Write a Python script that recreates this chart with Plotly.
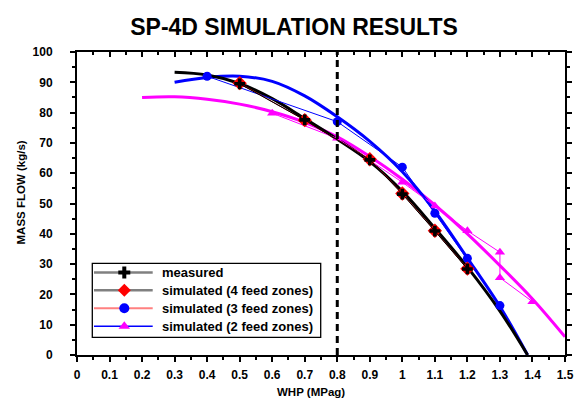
import plotly.graph_objects as go

# ---------------- data ----------------
whp_ticks = [0, 0.1, 0.2, 0.3, 0.4, 0.5, 0.6, 0.7, 0.8, 0.9, 1.0, 1.1, 1.2, 1.3, 1.4, 1.5]

measured_whp = [0.5, 0.7, 0.9, 1.0, 1.1, 1.2]
measured_flow = [89.5, 77.6, 64.4, 53.1, 40.9, 28.4]

sim4_whp = [0.5, 0.7, 0.9, 1.0, 1.1, 1.2]
sim4_flow = [89.7, 77.5, 64.6, 53.3, 41.0, 28.5]

sim3_whp = [0.4, 0.8, 1.0, 1.1, 1.2, 1.3]
sim3_flow = [92.0, 77.0, 62.0, 46.8, 31.9, 16.3]

sim2_whp = [0.6, 0.8, 1.0, 1.1, 1.2, 1.3, 1.3, 1.4]
sim2_flow = [79.8, 71.5, 57.0, 49.2, 41.0, 33.9, 25.5, 17.6]

# fitted (thick) trend curves
fit_meas_whp = [0.3, 0.4, 0.5, 0.6, 0.7, 0.8, 0.9, 1.0, 1.1, 1.2, 1.3, 1.385]
fit_meas_flow = [93.3, 92.4, 89.6, 84.6, 78.0, 71.2, 63.8, 54.0, 41.8, 29.0, 14.5, 0.0]

fit_sim3_whp = [0.3, 0.4, 0.5, 0.6, 0.7, 0.8, 0.9, 1.0, 1.1, 1.2, 1.3, 1.385]
fit_sim3_flow = [90.0, 91.6, 92.0, 90.3, 85.5, 78.6, 70.5, 60.5, 47.5, 32.0, 16.0, 0.0]

fit_sim2_whp = [0.2, 0.3, 0.4, 0.5, 0.6, 0.7, 0.8, 0.9, 1.0, 1.1, 1.2, 1.3, 1.4, 1.5]
fit_sim2_flow = [85.0, 85.2, 84.4, 82.8, 80.3, 76.8, 72.0, 65.5, 58.0, 49.5, 40.0, 29.5, 18.5, 6.0]

cutoff_whp = 0.8

legend_names = ["measured", "simulated (4 feed zones)", "simulated (3 feed zones)", "simulated (2 feed zones)"]

FONT = "Liberation Sans, Arial, sans-serif"
BOLD = dict(family=FONT, color="black", weight="bold")

# pixel frame of the plot area (576x400 canvas)
PX_L, PX_R, PX_T, PX_B = 77, 565, 52, 355


def paper_x(px):
    return (px - PX_L) / (PX_R - PX_L)


def paper_y(py):
    return (PX_B - py) / (PX_B - PX_T)


fig = go.Figure()

# thick fitted curves
fig.add_trace(go.Scatter(x=fit_sim2_whp, y=fit_sim2_flow, mode="lines", line=dict(color="#ff00ff", width=3, shape="spline"), showlegend=False, hoverinfo="skip"))
fig.add_trace(go.Scatter(x=fit_sim3_whp, y=fit_sim3_flow, mode="lines", line=dict(color="#0000ff", width=3, shape="spline"), showlegend=False, hoverinfo="skip"))
fig.add_trace(go.Scatter(x=fit_meas_whp, y=fit_meas_flow, mode="lines", line=dict(color="#000000", width=3, shape="spline"), showlegend=False, hoverinfo="skip"))

# thin connecting lines + markers
fig.add_trace(go.Scatter(x=sim2_whp, y=sim2_flow, mode="lines+markers", line=dict(color="#ff00ff", width=1),
                         marker=dict(symbol="triangle-up", size=9, color="#ff00ff"), name=legend_names[3], showlegend=False))
fig.add_trace(go.Scatter(x=sim3_whp, y=sim3_flow, mode="lines+markers", line=dict(color="#0000ff", width=1),
                         marker=dict(symbol="circle", size=9, color="#0000ff"), name=legend_names[2], showlegend=False))
fig.add_trace(go.Scatter(x=sim4_whp, y=sim4_flow, mode="lines+markers", line=dict(color="#b00000", width=1),
                         marker=dict(symbol="diamond", size=11, color="#ff0000"), name=legend_names[1], showlegend=False))
fig.add_trace(go.Scatter(x=measured_whp, y=measured_flow, mode="lines+markers", line=dict(color="#000000", width=1),
                         marker=dict(symbol="cross", size=9, color="#000000"), name=legend_names[0], showlegend=False))

# invisible trace for mirrored top/right axes
fig.add_trace(go.Scatter(x=[0], y=[0], xaxis="x2", yaxis="y2", mode="markers", marker=dict(opacity=0), showlegend=False, hoverinfo="skip"))

# ---- hand-built legend on a hidden pixel-unit axis pair ----
leg_rows = [272.5, 290.3, 308.2, 326.2]
leg_line_colors = ["#808080", "#808080", "#ff8080", "#0000ff"]
leg_line_widths = [2.5, 2.5, 2, 1.5]
leg_symbols = ["cross", "diamond", "circle", "triangle-up"]
leg_marker_colors = ["#000000", "#ff0000", "#0000ff", "#ff00ff"]
leg_marker_sizes = [10, 10, 10, 10]
for row, lc, lw in zip(leg_rows, leg_line_colors, leg_line_widths):
    fig.add_trace(go.Scatter(x=[94, 152.7], y=[row, row], xaxis="x3", yaxis="y3", mode="lines",
                             line=dict(color=lc, width=lw), showlegend=False, hoverinfo="skip"))
for row, sym, mc, ms in zip(leg_rows, leg_symbols, leg_marker_colors, leg_marker_sizes):
    fig.add_trace(go.Scatter(x=[124.3], y=[row], xaxis="x3", yaxis="y3", mode="markers",
                             marker=dict(symbol=sym, color=mc, size=ms), showlegend=False, hoverinfo="skip"))
for row, name in zip(leg_rows, legend_names):
    fig.add_annotation(x=paper_x(159.5), y=paper_y(row), xref="paper", yref="paper", text=name, showarrow=False,
                       xanchor="left", yanchor="middle", font=dict(size=13, **BOLD))
fig.add_shape(type="rect", x0=paper_x(92.3), x1=paper_x(320.7), y0=paper_y(263.3), y1=paper_y(337.3),
              xref="paper", yref="paper", line=dict(color="black", width=1.3), fillcolor="rgba(0,0,0,0)")

fig.add_shape(type="line", x0=cutoff_whp, x1=cutoff_whp, y0=0, y1=100, xref="x", yref="y",
              line=dict(color="black", width=3, dash="7px,5px"))

# axis titles
fig.add_annotation(x=paper_x(311), y=paper_y(392), xref="paper", yref="paper", text="WHP (MPag)", showarrow=False,
                   xanchor="center", yanchor="middle", font=dict(size=11.5, **BOLD))
fig.add_annotation(x=paper_x(20), y=paper_y(192.5), xref="paper", yref="paper", text="MASS FLOW (kg/s)",
                   showarrow=False, textangle=-90, xanchor="center", yanchor="middle", font=dict(size=11.5, **BOLD))

tickfont = dict(size=12, **BOLD)

fig.update_layout(
    width=576, height=400,
    margin=dict(l=PX_L, r=576 - PX_R, t=PX_T, b=400 - PX_B),
    paper_bgcolor="white", plot_bgcolor="white",
    title=dict(text="SP-4D SIMULATION RESULTS", x=294 / 576, xanchor="center", y=1 - 26.5 / 400, yanchor="middle",
               font=dict(size=23, **BOLD)),
    xaxis=dict(range=[0, 1.5], tickvals=whp_ticks, ticktext=[f"{v:g}" for v in whp_ticks], automargin=False,
               showgrid=False, zeroline=False, showline=True, linecolor="black", linewidth=2,
               ticks="outside", ticklen=5, tickwidth=2, tickcolor="black", tickfont=tickfont, ticklabelstandoff=3,
               minor=dict(dtick=0.05, ticks="outside", ticklen=3, tickwidth=2, tickcolor="black")),
    yaxis=dict(range=[0, 100], dtick=10, showgrid=False, zeroline=False, showline=True, linecolor="black", linewidth=2,
               automargin=False, ticks="outside", ticklen=5, tickwidth=2, tickcolor="black", tickfont=tickfont,
               ticklabelstandoff=15,
               minor=dict(dtick=5, ticks="outside", ticklen=3, tickwidth=2, tickcolor="black")),
    xaxis2=dict(range=[0, 1.5], overlaying="x", side="top", anchor="y", showgrid=False, zeroline=False, automargin=False,
                showline=True, linecolor="black", linewidth=2, showticklabels=False, dtick=0.1,
                ticks="inside", ticklen=5, tickwidth=2, tickcolor="black",
                minor=dict(dtick=0.05, ticks="inside", ticklen=3, tickwidth=2, tickcolor="black")),
    yaxis2=dict(range=[0, 100], overlaying="y", side="right", anchor="x", showgrid=False, zeroline=False, automargin=False,
                showline=True, linecolor="black", linewidth=2, showticklabels=False, dtick=10,
                ticks="outside", ticklen=5, tickwidth=2, tickcolor="black",
                minor=dict(dtick=5, ticks="outside", ticklen=3, tickwidth=2, tickcolor="black")),
    xaxis3=dict(range=[PX_L, PX_R], overlaying="x", anchor="y3", visible=False, automargin=False),
    yaxis3=dict(range=[PX_B, PX_T], overlaying="y", anchor="x3", visible=False, automargin=False),
    showlegend=False,
)

fig.write_html("out.html", config={"displayModeBar": False, "staticPlot": True},
               post_script="document.body.style.margin='0px';document.body.style.padding='0px';")
